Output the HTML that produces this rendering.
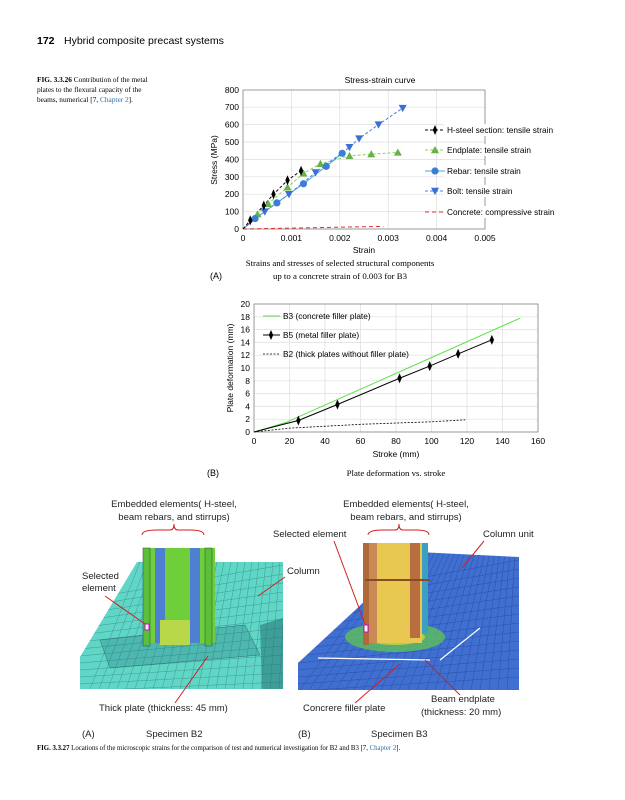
<!DOCTYPE html>
<html><head><meta charset="utf-8"><style>
html,body{margin:0;padding:0;background:#fff;}
svg{display:block;}
.s{font-family:"Liberation Sans",sans-serif;}
.r{font-family:"Liberation Serif",serif;}
</style></head><body>
<svg id="c" width="625" height="800" xmlns="http://www.w3.org/2000/svg">
<defs>
<clipPath id="cp1"><polygon points="137,562 283,562 283,689 80,689 80,657"/></clipPath>
<clipPath id="cp2"><polygon points="418,552 519,557 519,690 298,690 298,663"/></clipPath>
</defs>
<rect width="625" height="800" fill="#fff"/>
<text x="37" y="44" class="s" font-size="10.5" font-weight="bold">172</text>
<text x="64" y="44" class="s" font-size="10.5">Hybrid composite precast systems</text>
<text class="r" font-size="7.3"><tspan x="37" y="82"><tspan font-weight="bold">FIG. 3.3.26</tspan>   Contribution of the metal</tspan><tspan x="37" y="92">plates to the flexural capacity of the</tspan><tspan x="37" y="102">beams, numerical [7, <tspan fill="#2a6fb0">Chapter 2</tspan>].</tspan></text>

<g id="g1"></g>
<g id="g2"></g>

<g>
<polygon points="137,562 283,562 283,689 80,689 80,657" fill="#5fd6c6"/>
<polygon points="100,640 245,625 260,655 110,668" fill="#4cb8b0" stroke="#2a6f70" stroke-width="0.5"/>
<polygon points="260,625 283,618 283,689 262,689" fill="#3e9f98"/>
<g stroke="#2b6c6a" stroke-width="0.4" opacity="0.7" id="mesh1" clip-path="url(#cp1)"></g>
<rect x="143" y="548" width="72" height="95" fill="#6fcf3a"/>
<rect x="155" y="548" width="10" height="95" fill="#4f7fd0"/>
<rect x="190" y="548" width="10" height="95" fill="#4f7fd0"/>
<rect x="160" y="620" width="30" height="25" fill="#b8d84a"/>
<rect x="143" y="548" width="7" height="98" fill="#5cbf3a" stroke="#245" stroke-width="0.5"/>
<rect x="205" y="548" width="7" height="98" fill="#5cbf3a" stroke="#245" stroke-width="0.5"/>
<rect x="145" y="624" width="4" height="6" fill="#fff" stroke="#c0c" stroke-width="1"/>

<polygon points="418,552 519,557 519,690 298,690 298,663" fill="#3f6fd0"/>
<g stroke="#1d2f7a" stroke-width="0.4" opacity="0.6" id="mesh2" clip-path="url(#cp2)"></g>
<ellipse cx="395" cy="637" rx="50" ry="15" fill="#5fbf5a" opacity="0.8"/>
<ellipse cx="395" cy="637" rx="30" ry="8" fill="#c8d840" opacity="0.8"/>
<line x1="318" y1="658" x2="430" y2="660" stroke="#fff" stroke-width="1.2"/>
<line x1="440" y1="660" x2="480" y2="628" stroke="#fff" stroke-width="1.2"/>
<rect x="377" y="543" width="45" height="100" fill="#e8c850"/>
<rect x="367" y="543" width="10" height="100" fill="#c98a55"/>
<rect x="410" y="543" width="10" height="95" fill="#b86e3e"/>
<rect x="422" y="543" width="6" height="90" fill="#3a9fc0"/>
<rect x="363" y="543" width="6" height="102" fill="#b06a3a"/>
<rect x="364" y="625" width="4" height="7" fill="#fff" stroke="#c0c" stroke-width="1"/>
<line x1="365" y1="580" x2="430" y2="580" stroke="#8a4b20" stroke-width="2"/>
</g>
<g class="s" font-size="9.5" fill="#222">
<text x="174" y="507" text-anchor="middle">Embedded elements( H-steel,</text>
<text x="174" y="520" text-anchor="middle">beam rebars, and stirrups)</text>
<text x="406" y="507" text-anchor="middle">Embedded elements( H-steel,</text>
<text x="406" y="520" text-anchor="middle">beam rebars, and stirrups)</text>
<text x="273" y="537">Selected element</text>
<text x="483" y="537">Column unit</text>
<text x="287" y="574">Column</text>
<text x="82" y="579">Selected</text>
<text x="82" y="591">element</text>
<text x="99" y="711">Thick plate (thickness: 45 mm)</text>
<text x="303" y="711">Concrere filler plate</text>
<text x="431" y="702">Beam endplate</text>
<text x="421" y="715">(thickness: 20 mm)</text>
<text x="82" y="737">(A)</text><text x="146" y="737">Specimen B2</text>
<text x="298" y="737">(B)</text><text x="371" y="737">Specimen B3</text>
</g>
<g stroke="#d02020" stroke-width="1" fill="none">
<path d="M142,535 Q142,530 157,530 L170,530 Q174,530 174,524 Q174,530 178,530 L190,530 Q204,530 204,535"/>
<path d="M368,535 Q368,530 383,530 L395,530 Q399,530 399,524 Q399,530 403,530 L416,530 Q429,530 429,535"/>
<line x1="105" y1="596" x2="145" y2="624"/>
<line x1="285" y1="577" x2="258" y2="596"/>
<line x1="175" y1="703" x2="208" y2="656"/>
<line x1="334" y1="541" x2="365" y2="624"/>
<line x1="484" y1="541" x2="462" y2="568"/>
<line x1="355" y1="703" x2="400" y2="664"/>
<line x1="460" y1="695" x2="425" y2="660"/>
</g>
<text class="r" font-size="6.8" x="37" y="750"><tspan font-weight="bold">FIG. 3.3.27</tspan>   Locations of the microscopic strains for the comparison of test and numerical investigation for B2 and B3 [7, <tspan fill="#2a6fb0">Chapter 2</tspan>].</text>
</svg>
<script>
var NS="http://www.w3.org/2000/svg";
function el(p,t,a,txt){var e=document.createElementNS(NS,t);for(var k in a)e.setAttribute(k,a[k]);if(txt!=null)e.textContent=txt;p.appendChild(e);return e;}
var g=document.getElementById('g1');
function X(s){return 243+s*48400;} function Y(v){return 229-v*0.174;}
for(var i=0;i<=5;i++){var x=X(i*0.001);el(g,'line',{x1:x,y1:90,x2:x,y2:229,stroke:'#ddd','stroke-width':0.7});
el(g,'text',{x:x,y:241,'font-size':8.5,'text-anchor':'middle','class':'s'},i==0?'0':(i*0.001).toFixed(3));}
for(var v=0;v<=800;v+=100){var y=Y(v);el(g,'line',{x1:243,y1:y,x2:485,y2:y,stroke:'#ddd','stroke-width':0.7});
el(g,'text',{x:239,y:y+3,'font-size':8.5,'text-anchor':'end','class':'s'},v);}
el(g,'rect',{x:243,y:90,width:242,height:139,fill:'none',stroke:'#888','stroke-width':0.8});
el(g,'text',{x:380,y:83,'font-size':8.5,'text-anchor':'middle','class':'s'},'Stress-strain curve');
el(g,'text',{x:364,y:253,'font-size':8.5,'text-anchor':'middle','class':'s'},'Strain');
el(g,'text',{x:217,y:160,'font-size':8.5,'text-anchor':'middle','class':'s',transform:'rotate(-90 217 160)'},'Stress (MPa)');
function pts(a){return a.map(function(p){return X(p[0])+','+Y(p[1]);}).join(' ');}
var H=[[0.00015,50],[0.00043,135],[0.00063,200],[0.00092,280],[0.0012,335]];
var E=[[0.0003,85],[0.00052,145],[0.00092,240],[0.00125,320],[0.0016,375],[0.0022,420],[0.00265,430],[0.0032,440]];
var R=[[0.00025,60],[0.0007,150],[0.00125,260],[0.00172,360],[0.00205,435]];
var B=[[0.00045,100],[0.00095,200],[0.0015,325],[0.0022,470],[0.0024,520],[0.0028,600],[0.0033,695]];
el(g,'line',{x1:X(0),y1:Y(0),x2:X(0.0029),y2:Y(15),stroke:'#e03030','stroke-width':1,'stroke-dasharray':'4,3'});
el(g,'polyline',{points:pts([[0,0]].concat(E)),fill:'none',stroke:'#7ed957','stroke-width':1,'stroke-dasharray':'3,2'});
el(g,'polyline',{points:pts([[0,0]].concat(R)),fill:'none',stroke:'#4aa3e0','stroke-width':1});
el(g,'polyline',{points:pts([[0,0]].concat(B)),fill:'none',stroke:'#4a7fe0','stroke-width':1,'stroke-dasharray':'3,2'});
el(g,'polyline',{points:pts([[0,0]].concat(H)),fill:'none',stroke:'#000','stroke-width':1,'stroke-dasharray':'3,2'});
function dia(p,x,y){el(p,'polygon',{points:(x)+','+(y-5)+' '+(x+2.2)+','+y+' '+x+','+(y+5)+' '+(x-2.2)+','+y,fill:'#000'});}
function tri(p,x,y){el(p,'polygon',{points:x+','+(y-4)+' '+(x+4)+','+(y+3.2)+' '+(x-4)+','+(y+3.2),fill:'#6ab04c'});}
function cir(p,x,y){el(p,'circle',{cx:x,cy:y,r:3.6,fill:'#3a7fd5'});}
function itri(p,x,y){el(p,'polygon',{points:x+','+(y+4)+' '+(x+4)+','+(y-3.2)+' '+(x-4)+','+(y-3.2),fill:'#3a6fd5'});}
E.forEach(function(p){tri(g,X(p[0]),Y(p[1]));});
R.forEach(function(p){cir(g,X(p[0]),Y(p[1]));});
B.forEach(function(p){itri(g,X(p[0]),Y(p[1]));});
H.forEach(function(p){dia(g,X(p[0]),Y(p[1]));});
var L=[[130,'H-steel section: tensile strain','#000','3,2',dia],[150,'Endplate: tensile strain','#7ed957','3,2',tri],[171,'Rebar: tensile strain','#4aa3e0','',cir],[191,'Bolt: tensile strain','#4a7fe0','3,2',itri],[212,'Concrete: compressive strain','#e03030','4,3',null]];
L.forEach(function(l){el(g,'rect',{x:444,y:l[0]-6,width:125,height:12,fill:'#fff'});
el(g,'line',{x1:425,y1:l[0],x2:445,y2:l[0],stroke:l[2],'stroke-width':1,'stroke-dasharray':l[3]});
if(l[4])l[4](g,435,l[0]);
el(g,'text',{x:447,y:l[0]+3,'font-size':8.3,'class':'s'},l[1]);});
el(g,'text',{x:340,y:266,'font-size':8.8,'text-anchor':'middle','class':'r'},'Strains and stresses of selected structural components');
el(g,'text',{x:340,y:279,'font-size':8.8,'text-anchor':'middle','class':'r'},'up to a concrete strain of 0.003 for B3');
el(g,'text',{x:210,y:279,'font-size':9,'class':'s'},'(A)');
g=document.getElementById('g2');
function X2(s){return 254+s*1.775;} function Y2(v){return 432-v*6.4;}
for(var s=0;s<=160;s+=20){var x=X2(s);el(g,'line',{x1:x,y1:304,x2:x,y2:432,stroke:'#ddd','stroke-width':0.7});
el(g,'text',{x:x,y:444,'font-size':8.5,'text-anchor':'middle','class':'s'},s);}
for(var v=0;v<=20;v+=2){var y=Y2(v);el(g,'line',{x1:254,y1:y,x2:538,y2:y,stroke:'#ddd','stroke-width':0.7});
el(g,'text',{x:250,y:y+3,'font-size':8.5,'text-anchor':'end','class':'s'},v);}
el(g,'rect',{x:254,y:304,width:284,height:128,fill:'none',stroke:'#888','stroke-width':0.8});
el(g,'text',{x:396,y:457,'font-size':8.5,'text-anchor':'middle','class':'s'},'Stroke (mm)');
el(g,'text',{x:233,y:368,'font-size':8.5,'text-anchor':'middle','class':'s',transform:'rotate(-90 233 368)'},'Plate deformation (mm)');
function p2(a){return a.map(function(p){return X2(p[0])+','+Y2(p[1]);}).join(' ');}
el(g,'polyline',{points:p2([[0,0],[20,0.6],[60,1.2],[100,1.6],[119,1.9]]),fill:'none',stroke:'#000','stroke-width':0.8,'stroke-dasharray':'2,1.5'});
el(g,'polyline',{points:p2([[0,0],[18,1.5],[150,17.8]]),fill:'none',stroke:'#5ee04a','stroke-width':1});
var B5=[[25,1.8],[47,4.3],[82,8.4],[99,10.3],[115,12.2],[134,14.4]];
el(g,'polyline',{points:p2([[0,0],[15,1.1]].concat(B5)),fill:'none',stroke:'#000','stroke-width':1});
B5.forEach(function(p){dia(g,X2(p[0]),Y2(p[1]));});
el(g,'line',{x1:263,y1:316,x2:280,y2:316,stroke:'#5ee04a','stroke-width':1});
el(g,'text',{x:283,y:319,'font-size':8.3,'class':'s'},'B3 (concrete filler plate)');
el(g,'line',{x1:263,y1:335,x2:280,y2:335,stroke:'#000','stroke-width':1});dia(g,271,335);
el(g,'text',{x:283,y:338,'font-size':8.3,'class':'s'},'B5 (metal filler plate)');
el(g,'line',{x1:263,y1:354,x2:280,y2:354,stroke:'#000','stroke-width':0.8,'stroke-dasharray':'2,1.5'});
el(g,'text',{x:283,y:357,'font-size':8.3,'class':'s'},'B2 (thick plates without filler plate)');
el(g,'text',{x:207,y:476,'font-size':9,'class':'s'},'(B)');
el(g,'text',{x:396,y:476,'font-size':8.8,'text-anchor':'middle','class':'r'},'Plate deformation vs. stroke');
var m=document.getElementById('mesh1');
for(var i=0;i<14;i++){el(m,'line',{x1:80,y1:600+i*7,x2:283,y2:565+i*9});}
for(var i=0;i<22;i++){el(m,'line',{x1:90+i*9,y1:689,x2:140+i*7,y2:562});}
m=document.getElementById('mesh2');
for(var i=0;i<14;i++){el(m,'line',{x1:298,y1:600+i*7,x2:519,y2:560+i*9});}
for(var i=0;i<24;i++){el(m,'line',{x1:300+i*9,y1:690,x2:400+i*5,y2:552});}
</script>
</body></html>
